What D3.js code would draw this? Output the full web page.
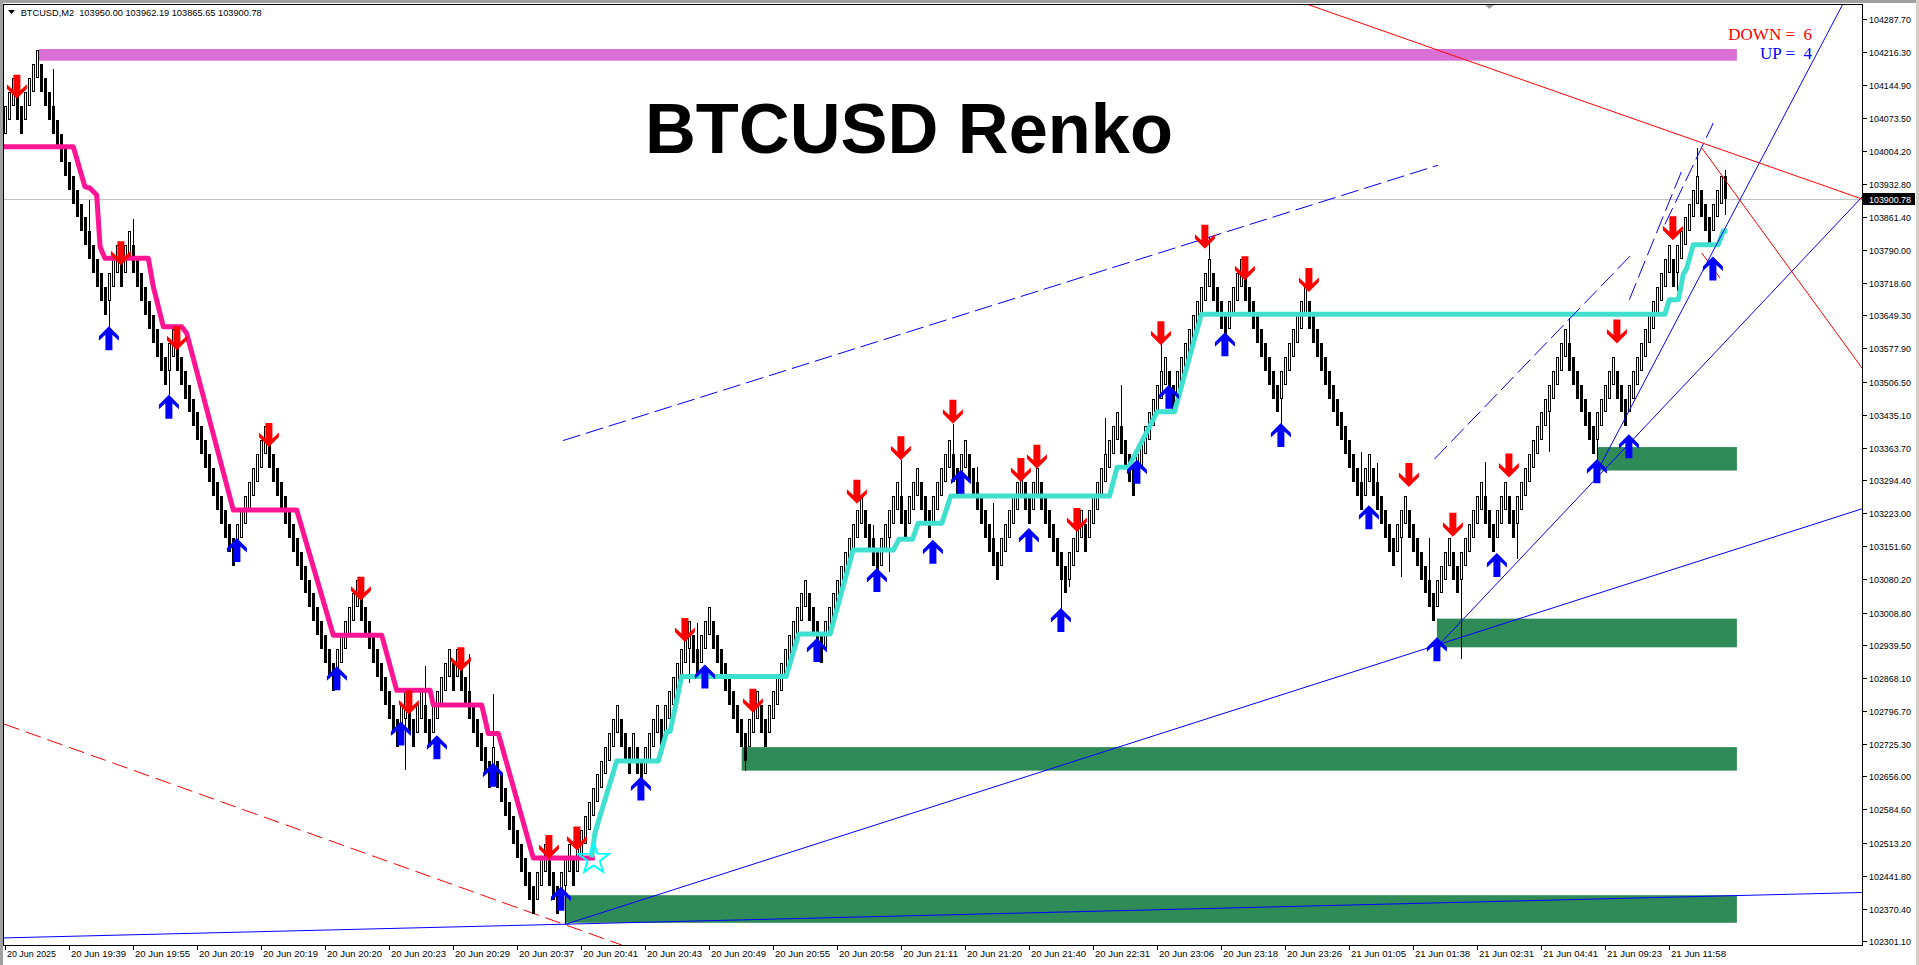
<!DOCTYPE html>
<html><head><meta charset="utf-8">
<script src="https://cdn.jsdelivr.net/npm/d3@7"></script>
<style>
html,body{margin:0;padding:0;background:#fff;overflow:hidden}
svg{display:block}
text{white-space:pre}
</style></head><body>
<svg id="c" width="1919" height="965"></svg>
<script>
// ---------------- DATA ----------------
const symbolHeader = "BTCUSD,M2  103950.00 103962.19 103865.65 103900.78";
const chartTitle = "BTCUSD Renko";
const brickSize = 30;                 // price step between consecutive brick centres
const startLevel = 3469;              // first brick centre = startLevel * brickSize
// signed run lengths of consecutive bricks
const brickRuns = [2,-2,4,-17,3,-1,2,-9,2,-15,8,-17,6,-10,2,-2,2,-2,5,-1,1,-8,1,-10,3,-3,3,-1,11,-3,1,-2,4,-1,7,-2,3,-9,3,-2,10,-4,10,-4,5,-2,3,-3,5,-2,2,-8,6,-2,2,-7,4,-1,8,-4,8,-2,9,-4,4,-9,7,-14,2,-6,3,-7,4,-2,6,-3,3,-2,13,-7,5,-3,11,-1,6,-3,3];
// forming last bar
const lastBar = {open:103950.00, high:103962.19, low:103865.65, close:103900.78};
// wick extremes [bar, price]
const wicks = [[12,104181],[21,103898],[26,103625],[32,103857],[41,103477],[100,102670],[105,102893],[116,102919],[122,102834],[140,102337],[171,102856],[173,102986],[185,102667],[217,103197],[221,103096],[224,103337],[237,103416],[243,103323],[247,103244],[264,103014],[266,103064],[275,103427],[279,103499],[289,103589],[301,103819],[319,103413],[339,103355],[343,103330],[349,103086],[356,103169],[364,102908],[370,103334],[378,103124],[386,103355],[391,103643],[398,103317],[418,103701],[423,104010]];
// trailing stop lines [bar, price]
const trailDown = [[-0.225,104012.5],[17.1,104012.5],[20.0,103926.4],[21.3,103923],[22.95,103908.5],[23.8,103797.1],[25.0,103772.1],[35.85,103772.1],[37.1,103710.9],[39.6,103624.7],[44.2,103624.7],[45.45,103610.5],[57.1,103229.7],[72.95,103229.7],[82.1,102960],[94.2,102960],[97.95,102841.3],[106.3,102841.3],[107.1,102809.6],[119.2,102809.6],[120.85,102748.4],[123.35,102748.4],[132.1,102479.9],[147.5,102479.9]];
const trailUp = [[146.7,102481.4],[147.5,102533.8],[152.95,102688.9],[163.35,102688.9],[165.45,102752.3],[166.3,102752.3],[169.2,102871],[195.3,102871],[198.45,102962.6],[206.3,102962.6],[212.05,103143.5],[222.1,103143.5],[223.5,103166.6],[226.9,103166.6],[228.3,103201],[234.25,103201],[236.45,103259.9],[276.15,103259.9],[278.05,103321.7],[280.9,103321.7],[288.1,103441.6],[292.4,103441.6],[299.1,103651.4],[415.0,103651.4],[416.1,103682.7],[418.35,103682.7],[419.6,103738],[420.45,103750.3],[422.1,103801.4],[428.35,103801.4],[429.6,103831.1],[430.6,103831.1]];
const starPoint = [147.2, 102478];
// signal arrows [bar, price]
const downArrows = [[3,104141.8],[29,103782.9],[43,103599.7],[66,103391.3],[89,103060.2],[101,102815.2],[114,102908.0],[136,102503.6],[143,102522.2],[170,102971.2],[187,102819.0],[213,103269.2],[224,103362.7],[237,103441.6],[254,103315.9],[258,103344.6],[268,103208.2],[289,103610.5],[300,103818.6],[310,103750.5],[326,103725.5],[351,103305.2],[362,103197.9],[376,103325.7],[403,103614.4],[417,103836.9]];
const upArrows = [[26,103599.7],[41,103452.3],[58,103143.5],[83,102867.1],[99,102748.4],[108,102718.8],[122,102659.4],[139,102392.4],[159,102629.6],[175,102871.0],[203,102928.1],[218,103078.9],[232,103139.9],[239,103290.7],[256,103165.1],[264,102992.7],[283,103312.3],[291,103473.9],[305,103586.9],[319,103391.3],[341,103214.4],[358,102929.8],[373,103111.2],[398,103313.4],[406,103367.1],[427,103750.3]];
// zones [startBar, endBar, topPrice, bottomPrice]
const demandZones = [[184.2,433,102718.8,102668.2],[140,433,102399.8,102340.3],[398.2,433,103365.3,103314.8],[358,433,102995.7,102933.9]];
const supplyBand = [8.5,433,104223.1,104197.9];
// trend lines [bar1, price1, bar2, price2]
const blueSolid = [[-0.225,102307.75,464.28,102405.6],[140,102336.6,464.28,103232.3],[358,102934.5,464.28,103904.2],[398.2,103314.85,459.5,104320]];
const blueDashed = [[139.5,103379.3,358.3,103972.7],[357.4,103339.6,406.65,103780.1],[406.1,103682.7,419.6,103968.8],[415.0,103845.1,427.1,104063.6]];
const redSolid = [[325.4,104320,464.28,103899.85],[424.2,104010.2,464.28,103535.7]];
const redDashed = [[-0.225,102768.6,154.2,102292.45],[424.2,103783.5,428.8,103729.6]];
// axis labels
const priceTicks = [104287.70,104216.30,104144.90,104073.50,104004.20,103932.80,103861.40,103790.00,103718.60,103649.30,103577.90,103506.50,103435.10,103363.70,103294.40,103223.00,103151.60,103080.20,103008.80,102939.50,102868.10,102796.70,102725.30,102656.00,102584.60,102513.20,102441.80,102370.40,102301.10];
const timeLabels = ["20 Jun 2025","20 Jun 19:39","20 Jun 19:55","20 Jun 20:19","20 Jun 20:19","20 Jun 20:20","20 Jun 20:23","20 Jun 20:29","20 Jun 20:37","20 Jun 20:41","20 Jun 20:43","20 Jun 20:49","20 Jun 20:55","20 Jun 20:58","20 Jun 21:11","20 Jun 21:20","20 Jun 21:40","20 Jun 22:31","20 Jun 23:06","20 Jun 23:18","20 Jun 23:26","21 Jun 01:05","21 Jun 01:38","21 Jun 02:31","21 Jun 04:41","21 Jun 09:23","21 Jun 11:58"];
const barsPerLabel = 16;
const currentPrice = 103900.78;
const legendDown = "DOWN =  6", legendUp = "UP =  4";

// ---------------- LAYOUT ----------------
const L=4, R=1862, T=5, B=945;
const y = d3.scaleLinear().domain([102301.1,104287.7]).range([941,19]);
const x = d3.scaleLinear().domain([0,416]).range([4.9,1668.9]);
const svg = d3.select('#c');

svg.append('rect').attr('width',1919).attr('height',965).attr('fill','#fff');
svg.append('rect').attr('x',0).attr('y',0).attr('width',1919).attr('height',3).attr('fill','#a0a0a0');
svg.append('rect').attr('x',0).attr('y',0).attr('width',3).attr('height',965).attr('fill','#a0a0a0');
svg.append('rect').attr('x',1916).attr('y',0).attr('width',3).attr('height',965).attr('fill','#d4d0c8');

svg.append('clipPath').attr('id','plot').append('rect').attr('x',L).attr('y',T).attr('width',R-L).attr('height',B-T);
const g = svg.append('g').attr('clip-path','url(#plot)');

g.selectAll('rect.zone').data(demandZones).enter().append('rect')
 .attr('x',d=>x(d[0])).attr('width',d=>x(d[1])-x(d[0]))
 .attr('y',d=>y(d[2])).attr('height',d=>y(d[3])-y(d[2])).attr('fill','#2e8b57');
g.append('rect').attr('x',x(supplyBand[0])).attr('width',x(supplyBand[1])-x(supplyBand[0]))
 .attr('y',y(supplyBand[2])).attr('height',y(supplyBand[3])-y(supplyBand[2])).attr('fill','#da70d6');

g.append('line').attr('x1',L).attr('x2',R).attr('y1',Math.round(y(currentPrice))+0.5).attr('y2',Math.round(y(currentPrice))+0.5)
 .attr('stroke','#c0c0c0').attr('stroke-width',1);

function tl(arr, color, dash){
  g.selectAll(null).data(arr).enter().append('line')
   .attr('x1',d=>x(d[0])).attr('y1',d=>y(d[1])).attr('x2',d=>x(d[2])).attr('y2',d=>y(d[3]))
   .attr('stroke',color).attr('stroke-width',1).attr('stroke-dasharray',dash||null);
}
tl(redDashed,'#ff0000','16,7');

const bars=[]; let lv=startLevel;
bars.push({i:0,mid:lv*brickSize,up:true});
brickRuns.forEach(r=>{const s=Math.sign(r); for(let k=0;k<Math.abs(r);k++){lv+=s; bars.push({i:bars.length,mid:lv*brickSize,up:s>0});}});
const wickMap = new Map(wicks.map(w=>[w[0],w[1]]));
const gb = g.append('g').attr('shape-rendering','crispEdges');
bars.forEach(b=>{
  const cx=Math.round(x(b.i)); const t=Math.round(y(b.mid+brickSize)), bt=Math.round(y(b.mid-brickSize));
  if(wickMap.has(b.i)){const w=wickMap.get(b.i); const wy=Math.round(y(w));
    gb.append('line').attr('x1',cx+0.5).attr('x2',cx+0.5).attr('y1',wy).attr('y2',wy<t?t:bt).attr('stroke','#000');}
  if(b.up) gb.append('rect').attr('x',cx-0.5).attr('y',t+0.5).attr('width',2).attr('height',bt-t-1).attr('fill','#fff').attr('stroke','#000').attr('stroke-width',1);
  else gb.append('rect').attr('x',cx-1).attr('y',t).attr('width',3).attr('height',bt-t).attr('fill','#000');
});
{ const i=bars.length, cx=Math.round(x(i));
  gb.append('line').attr('x1',cx+0.5).attr('x2',cx+0.5).attr('y1',Math.round(y(lastBar.high))).attr('y2',Math.round(y(lastBar.low))).attr('stroke','#000');
  gb.append('rect').attr('x',cx-1).attr('y',Math.round(y(lastBar.open))).attr('width',3).attr('height',Math.round(y(lastBar.close))-Math.round(y(lastBar.open))).attr('fill','#000'); }

const ln = d3.line().x(d=>x(d[0])).y(d=>y(d[1]));
g.append('path').attr('d',ln(trailDown)).attr('fill','none').attr('stroke','#ff1493').attr('stroke-width',5).attr('stroke-linejoin','round');
g.append('path').attr('d',ln(trailUp)).attr('fill','none').attr('stroke','#40e0d0').attr('stroke-width',5).attr('stroke-linejoin','round');

tl(blueSolid,'#0000ff');
tl(blueDashed,'#0000ff','18,6');
tl(redSolid,'#ff0000');

{ const cx=x(starPoint[0]), cy=y(starPoint[1]); const pts=[];
  for(let k=0;k<10;k++){const a=-Math.PI/2+k*Math.PI/5; const r=k%2?6.5:16; pts.push([cx+r*Math.cos(a),cy+r*Math.sin(a)]);}
  g.append('polygon').attr('points',pts.map(p=>p.join(',')).join(' ')).attr('fill','none').attr('stroke','#00ffff').attr('stroke-width',2); }

const upPath="M0,-12 L10,-2 L10,2.5 L3.5,-3.5 L3.5,12 L-3.5,12 L-3.5,-3.5 L-10,2.5 L-10,-2 Z";
g.selectAll('path.ua').data(upArrows).enter().append('path').attr('d',upPath)
 .attr('transform',d=>`translate(${x(d[0])},${y(d[1])})`).attr('fill','#0000ff');
g.selectAll('path.da').data(downArrows).enter().append('path').attr('d',upPath)
 .attr('transform',d=>`translate(${x(d[0])},${y(d[1])}) scale(1,-1)`).attr('fill','#ff0000');

svg.append('text').attr('x',909).attr('y',153).attr('text-anchor','middle').attr('font-family','Liberation Sans, Arial, sans-serif')
 .attr('font-weight','bold').attr('font-size',70).attr('textLength',528).attr('lengthAdjust','spacingAndGlyphs').attr('fill','#000').text(chartTitle);
svg.append('text').attr('x',1812).attr('y',40).attr('text-anchor','end').attr('font-family','Liberation Serif, Times New Roman, serif').attr('font-size',17).attr('fill','#ff0000').text(legendDown);
svg.append('text').attr('x',1812).attr('y',59).attr('text-anchor','end').attr('font-family','Liberation Serif, Times New Roman, serif').attr('font-size',17).attr('fill','#0000ff').text(legendUp);

svg.append('path').attr('d','M8,10 L15,10 L11.5,14 Z').attr('fill','#000');
svg.append('text').attr('x',20.7).attr('y',16).attr('font-family','Liberation Sans, Arial, sans-serif').attr('font-size',9.5)
 .attr('textLength',241).attr('lengthAdjust','spacingAndGlyphs').attr('fill','#000').text(symbolHeader);
svg.append('path').attr('d','M1485,5 L1494,5 L1489.5,9 Z').attr('fill','#a0a0a0');

const fr = svg.append('g').attr('shape-rendering','crispEdges').attr('stroke','#000').attr('stroke-width',1);
fr.append('line').attr('x1',3.5).attr('x2',3.5).attr('y1',4).attr('y2',946);
fr.append('line').attr('x1',3).attr('x2',1863).attr('y1',4.5).attr('y2',4.5);
fr.append('line').attr('x1',R+0.5).attr('x2',R+0.5).attr('y1',4).attr('y2',946);
fr.append('line').attr('x1',3).attr('x2',1863).attr('y1',B+0.5).attr('y2',B+0.5);

const pa = svg.append('g');
priceTicks.forEach(p=>{
  const yy=Math.round(y(p))+0.5;
  pa.append('line').attr('x1',R+1).attr('x2',R+5).attr('y1',yy).attr('y2',yy).attr('stroke','#000').attr('shape-rendering','crispEdges');
  pa.append('text').attr('x',1869).attr('y',yy+3.5).attr('font-family','Liberation Sans, Arial, sans-serif').attr('font-size',9.5)
   .attr('textLength',42).attr('lengthAdjust','spacingAndGlyphs').attr('fill','#000').text(p.toFixed(2));
});
{ const yc=y(currentPrice);
  pa.append('rect').attr('x',1863).attr('y',Math.round(yc)-6).attr('width',52).attr('height',12).attr('fill','#000');
  pa.append('text').attr('x',1869).attr('y',Math.round(yc)+3.5).attr('font-family','Liberation Sans, Arial, sans-serif').attr('font-size',9.5)
   .attr('textLength',42).attr('lengthAdjust','spacingAndGlyphs').attr('fill','#fff').text(currentPrice.toFixed(2)); }

timeLabels.forEach((t,j)=>{
  const xx=Math.round(x(j*barsPerLabel))+0.5;
  pa.append('line').attr('x1',xx).attr('x2',xx).attr('y1',B+1).attr('y2',B+5).attr('stroke','#000').attr('shape-rendering','crispEdges');
  pa.append('text').attr('x',xx+1.5).attr('y',957).attr('font-family','Liberation Sans, Arial, sans-serif').attr('font-size',9.5)
   .attr('textLength',j===0?49:55).attr('lengthAdjust','spacingAndGlyphs').attr('fill','#000').text(t);
});
</script>
</body></html>
